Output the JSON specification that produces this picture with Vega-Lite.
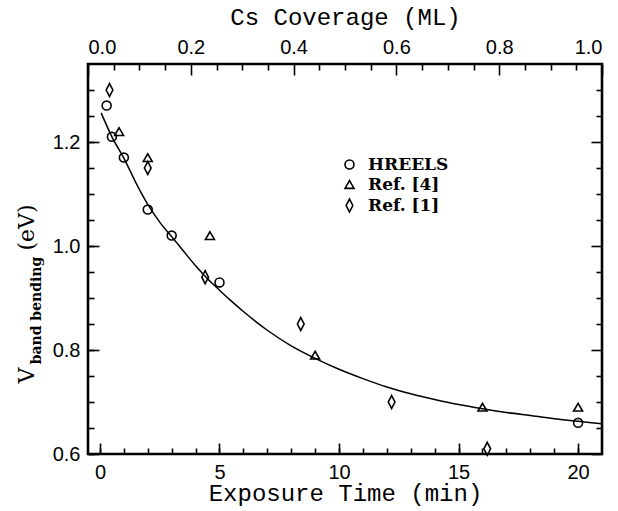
{
  "$schema": "https://vega.github.io/schema/vega-lite/v6.json",
  "width": 514,
  "height": 390,
  "autosize": {"type": "none"},
  "padding": {"left": 88, "top": 64, "right": 16, "bottom": 57},
  "background": "white",
  "config": {
    "view": {"stroke": "black", "strokeWidth": 2.6},
    "axis": {
      "domain": false,
      "grid": false,
      "tickColor": "black",
      "tickWidth": 1.6,
      "labelColor": "black",
      "titleColor": "black",
      "labelFont": "Liberation Sans",
      "labelFontSize": 20,
      "titleFont": "Liberation Mono",
      "titleFontWeight": "normal"
    }
  },
  "datasets": {
    "curve": [
      {"t": 0.05, "v": 1.256}, {"t": 0.5, "v": 1.21}, {"t": 1.0, "v": 1.169},
      {"t": 1.5, "v": 1.122}, {"t": 2.0, "v": 1.08}, {"t": 2.5, "v": 1.046},
      {"t": 3.0, "v": 1.018}, {"t": 3.5, "v": 0.99}, {"t": 4.0, "v": 0.962},
      {"t": 4.5, "v": 0.937}, {"t": 5.0, "v": 0.915}, {"t": 5.5, "v": 0.894},
      {"t": 6, "v": 0.874}, {"t": 7, "v": 0.838}, {"t": 8, "v": 0.808},
      {"t": 9, "v": 0.784}, {"t": 10, "v": 0.763}, {"t": 11, "v": 0.745},
      {"t": 12, "v": 0.729}, {"t": 13, "v": 0.716}, {"t": 14, "v": 0.705},
      {"t": 15, "v": 0.695}, {"t": 16, "v": 0.687}, {"t": 17, "v": 0.68},
      {"t": 18, "v": 0.674}, {"t": 19, "v": 0.668}, {"t": 20, "v": 0.663},
      {"t": 21, "v": 0.658}
    ],
    "obs": [
      {"series": "HREELS", "t": 0.28, "v": 1.27},
      {"series": "HREELS", "t": 0.5, "v": 1.21},
      {"series": "HREELS", "t": 1.0, "v": 1.17},
      {"series": "HREELS", "t": 2.0, "v": 1.07},
      {"series": "HREELS", "t": 3.0, "v": 1.02},
      {"series": "HREELS", "t": 5.0, "v": 0.93},
      {"series": "HREELS", "t": 20.0, "v": 0.66},
      {"series": "Ref. [4]", "t": 0.8, "v": 1.22},
      {"series": "Ref. [4]", "t": 2.0, "v": 1.17},
      {"series": "Ref. [4]", "t": 4.6, "v": 1.02},
      {"series": "Ref. [4]", "t": 9.0, "v": 0.79},
      {"series": "Ref. [4]", "t": 16.0, "v": 0.69},
      {"series": "Ref. [4]", "t": 20.0, "v": 0.69},
      {"series": "Ref. [1]", "t": 0.4, "v": 1.30},
      {"series": "Ref. [1]", "t": 2.0, "v": 1.15},
      {"series": "Ref. [1]", "t": 4.4, "v": 0.94},
      {"series": "Ref. [1]", "t": 8.4, "v": 0.85},
      {"series": "Ref. [1]", "t": 12.2, "v": 0.70},
      {"series": "Ref. [1]", "t": 16.2, "v": 0.61}
    ]
  },
  "resolve": {
    "scale": {"x": "independent", "y": "shared"},
    "axis": {"x": "independent", "y": "independent"}
  },
  "layer": [
    {
      "data": {"name": "curve"},
      "mark": {"type": "line", "color": "black", "strokeWidth": 1.5, "interpolate": "monotone", "clip": true},
      "encoding": {
        "x": {
          "field": "t", "type": "quantitative",
          "scale": {"domain": [-0.5, 21], "nice": false, "zero": false},
          "axis": {
            "orient": "bottom", "values": [0, 5, 10, 15, 20], "format": "d",
            "tickSize": -11, "labelPadding": 19,
            "title": "Exposure Time (min)", "titleFontSize": 24, "titlePadding": -1
          }
        },
        "y": {
          "field": "v", "type": "quantitative",
          "scale": {"domain": [0.6, 1.35], "nice": false, "zero": false},
          "axis": {
            "orient": "left", "values": [0.6, 0.8, 1.0, 1.2], "format": ".1f",
            "tickSize": -11, "labelPadding": 19,
            "title": "V", "titleFont": "DejaVu Serif", "titleFontWeight": "normal", "titleFontSize": 22,
            "titleAngle": -90, "titleAlign": "center", "titleBaseline": "alphabetic",
            "titleX": -55, "titleY": 311
          }
        }
      }
    },
    {
      "data": {"name": "obs"},
      "mark": {"type": "point", "filled": false, "color": "black", "strokeWidth": 1.6, "size": 80, "opacity": 1},
      "encoding": {
        "x": {
          "field": "t", "type": "quantitative",
          "scale": {"domain": [-0.5, 21], "nice": false, "zero": false},
          "axis": {
            "orient": "bottom", "values": [0,1,2,3,4,5,6,7,8,9,10,11,12,13,14,15,16,17,18,19,20],
            "tickSize": -6, "labels": false, "title": null
          }
        },
        "y": {
          "field": "v", "type": "quantitative",
          "scale": {"domain": [0.6, 1.35], "nice": false, "zero": false},
          "axis": {
            "orient": "left",
            "values": [0.6,0.65,0.7,0.75,0.8,0.85,0.9,0.95,1.0,1.05,1.1,1.15,1.2,1.25,1.3],
            "tickSize": -6, "labels": false,
            "title": "band bending", "titleFont": "DejaVu Serif", "titleFontWeight": "bold", "titleFontSize": 14,
            "titleAngle": -90, "titleAlign": "center", "titleBaseline": "alphabetic",
            "titleX": -48, "titleY": 246
          }
        },
        "shape": {
          "field": "series", "type": "nominal",
          "scale": {
            "domain": ["HREELS", "Ref. [4]", "Ref. [1]"],
            "range": ["circle", "triangle-up", "M0,-1.45L0.75,0L0,1.45L-0.75,0Z"]
          },
          "legend": {
            "orient": "none", "legendX": 253, "legendY": 92, "title": null, "padding": 0,
            "labelFont": "DejaVu Serif", "labelFontWeight": "bold", "labelFontSize": 17,
            "labelColor": "black", "labelOffset": 10,
            "symbolStrokeColor": "black", "symbolStrokeWidth": 1.6, "symbolSize": 80,
            "symbolFillColor": "transparent", "rowPadding": 2
          }
        }
      }
    },
    {
      "data": {"name": "obs"},
      "mark": {"type": "point", "opacity": 0},
      "encoding": {
        "x": {
          "datum": 0.5, "type": "quantitative",
          "scale": {"domain": [0, 1], "nice": false, "zero": false},
          "axis": {
            "orient": "top", "values": [0, 0.2, 0.4, 0.6, 0.8, 1.0], "format": ".1f",
            "tickSize": -11, "labelPadding": 18, "labelFlush": true,
            "title": "Cs Coverage (ML)", "titleFontSize": 24, "titlePadding": 8
          }
        },
        "y": {
          "field": "v", "type": "quantitative",
          "axis": {"orient": "right", "values": [0.6, 0.8, 1.0, 1.2], "tickSize": -11, "labels": false, "title": null}
        }
      }
    },
    {
      "data": {"name": "obs"},
      "mark": {"type": "point", "opacity": 0},
      "encoding": {
        "x": {
          "datum": 0.5, "type": "quantitative",
          "scale": {"domain": [0, 1], "nice": false, "zero": false},
          "axis": {
            "orient": "top",
            "values": [0.05,0.1,0.15,0.25,0.3,0.35,0.45,0.5,0.55,0.65,0.7,0.75,0.85,0.9,0.95],
            "tickSize": -6, "labels": false, "title": null
          }
        },
        "y": {
          "field": "v", "type": "quantitative",
          "axis": {
            "orient": "right",
            "values": [0.65,0.7,0.75,0.85,0.9,0.95,1.05,1.1,1.15,1.25,1.3],
            "tickSize": -6, "labels": false, "title": null
          }
        }
      }
    },
    {
      "data": {"name": "obs"},
      "mark": {"type": "point", "opacity": 0},
      "encoding": {
        "y": {
          "field": "v", "type": "quantitative",
          "axis": {
            "orient": "left", "ticks": false, "labels": false,
            "title": "(eV)", "titleFont": "DejaVu Serif", "titleFontWeight": "normal", "titleFontSize": 22,
            "titleAngle": -90, "titleAlign": "center", "titleBaseline": "alphabetic",
            "titleX": -55, "titleY": 163
          }
        }
      }
    }
  ]
}
